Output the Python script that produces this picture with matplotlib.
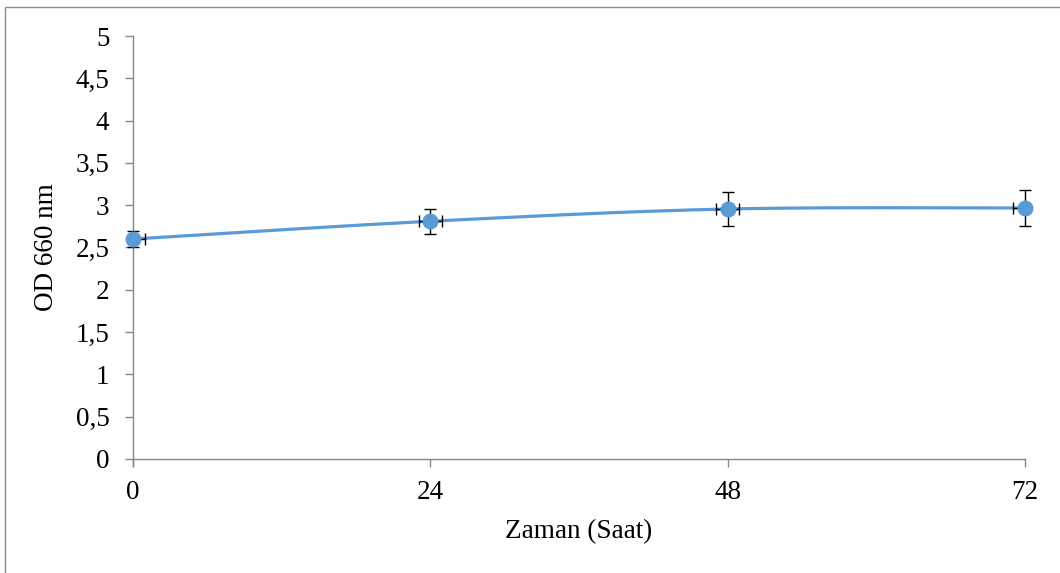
import matplotlib
matplotlib.use("Agg")
import matplotlib.pyplot as plt
import numpy as np
from matplotlib.patches import Rectangle

hours = [0, 24, 48, 72]
od = [2.60, 2.81, 2.955, 2.967]
od_err = [0.10, 0.145, 0.205, 0.21]
hour_err = [0.95, 0.95, 0.95, 0.95]
xticks = [0, 24, 48, 72]
yticks = [0, 0.5, 1, 1.5, 2, 2.5, 3, 3.5, 4, 4.5, 5]
ytick_labels = ["0", "0,5", "1", "1,5", "2", "2,5", "3", "3,5", "4", "4,5", "5"]

plt.rcParams['font.family'] = ['Liberation Serif', 'DejaVu Serif']

W, H = 1060, 573
fig = plt.figure(figsize=(W / 100, H / 100), dpi=100)
fig.patch.set_facecolor('white')
ax = fig.add_axes([133 / W, (H - 459) / H, (1025 - 133) / W, (459 - 36) / H])

# outer border (top and left visible)
fig.patches.append(Rectangle((5 / W, -0.1), 1.2, (H - 7) / H + 0.1, transform=fig.transFigure,
                             fill=False, edgecolor='#8c8c8c', linewidth=1.0))

# Excel-like smooth curve (Catmull-Rom Bezier)
def smooth(xs, ys, n=60):
    xs = np.asarray(xs, float); ys = np.asarray(ys, float)
    P = np.column_stack([xs, ys])
    out = []
    for i in range(len(P) - 1):
        p0 = P[i - 1] if i > 0 else P[i]
        p1 = P[i]; p2 = P[i + 1]
        p3 = P[i + 2] if i + 2 < len(P) else P[i + 1]
        c1 = p1 + (p2 - p0) / 6
        c2 = p2 - (p3 - p1) / 6
        t = np.linspace(0, 1, n)[:, None]
        seg = (1 - t) ** 3 * p1 + 3 * (1 - t) ** 2 * t * c1 + 3 * (1 - t) * t ** 2 * c2 + t ** 3 * p2
        out.append(seg)
    S = np.vstack(out)
    return S[:, 0], S[:, 1]

sx, sy = smooth(hours, od)
ax.plot(sx, sy, color='#5B9BD5', linewidth=2.3, zorder=2, solid_capstyle='round')
# y error bars (not clipped)
eb = ax.errorbar(hours, od, yerr=od_err, fmt='none', ecolor='black',
                 elinewidth=1.0, capsize=4, capthick=1.0, zorder=3)
for art in eb.get_children():
    art.set_clip_on(False)
# x error bars (clipped to plot area)
ax.errorbar(hours, od, xerr=hour_err, fmt='none', ecolor='black',
            elinewidth=1.0, capsize=4, capthick=1.0, zorder=3)
ax.plot(hours, od, 'o', color='#5B9BD5', markersize=10.5, zorder=4, clip_on=False)

ax.set_xlim(0, 72)
ax.set_ylim(0, 5)
ax.set_xticks(xticks)
ax.set_xticklabels([str(v) for v in xticks])
ax.set_yticks(yticks)
ax.set_yticklabels(ytick_labels)

for s in ['top', 'right']:
    ax.spines[s].set_visible(False)
for s in ['left', 'bottom']:
    ax.spines[s].set_color('#868686')
    ax.spines[s].set_linewidth(1.0)
ax.spines['left'].set_bounds(-0.08, 5)
ax.spines['left'].set_clip_on(False)
ax.tick_params(axis='both', colors='#868686', labelcolor='black', labelsize=19.5, length=6, width=1.0)
ax.tick_params(axis='x', pad=9)
ax.tick_params(axis='y', pad=11)

ax.set_xlabel('Zaman (Saat)', fontsize=19.5, labelpad=10)
ax.set_ylabel('OD 660 nm', fontsize=19.5, labelpad=12)

fig.savefig('out.png', dpi=100, facecolor='white')
